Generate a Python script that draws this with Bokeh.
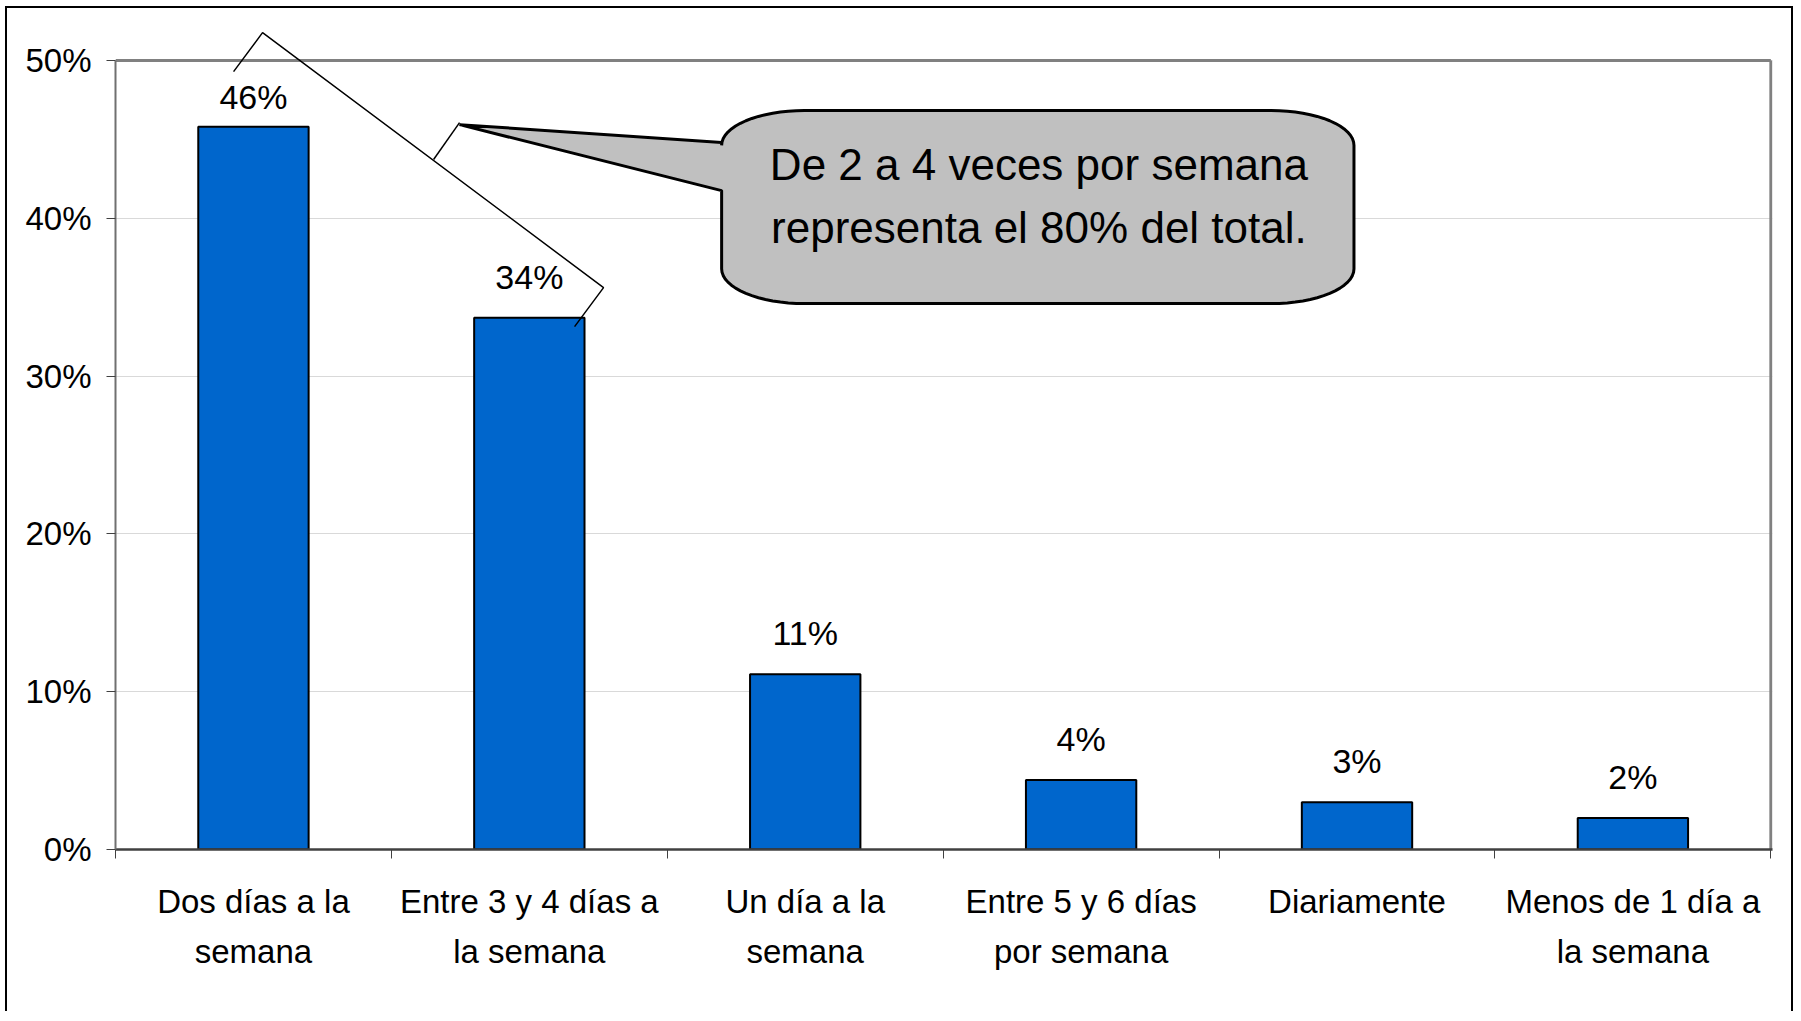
import math
from bokeh.plotting import figure
from bokeh.models import Range1d, FixedTicker, LinearAxis, NumeralTickFormatter, ColumnDataSource
from bokeh.core.properties import value
from bokeh.embed import file_html
from bokeh.resources import INLINE

# ---------------- data ----------------
categories = ["Dos días a la semana", "Entre 3 y 4 días a la semana", "Un día a la semana",
              "Entre 5 y 6 días por semana", "Diariamente", "Menos de 1 día a la semana"]
label_line1 = ["Dos días a la", "Entre 3 y 4 días a", "Un día a la", "Entre 5 y 6 días",
               "Diariamente", "Menos de 1 día a"]
label_line2 = ["semana", "la semana", "semana", "por semana", "", "la semana"]
shares = [0.458, 0.337, 0.111, 0.044, 0.030, 0.020]
share_labels = ["46%", "34%", "11%", "4%", "3%", "2%"]
y_ticks = [0, 0.1, 0.2, 0.3, 0.4, 0.5]
callout_lines = ["De 2 a 4 veces por semana", "representa el 80% del total."]

FONT = "Liberation Sans"
n = len(categories)
centers = [i + 0.5 for i in range(n)]
boundaries = list(range(n + 1))

p = figure(width=1788, height=1005,
           x_range=Range1d(0, 6.006), y_range=Range1d(0, 0.533),
           output_backend="svg", toolbar_location=None,
           min_border_left=108, min_border_right=23, min_border_top=0, min_border_bottom=164,
           styles={"border-top": "2px solid #000", "border-left": "2px solid #000",
                   "border-right": "2px solid #000",
                   "margin-left": "5px", "margin-top": "6px"})
p.outline_line_color = None
p.background_fill_color = "white"
p.border_fill_color = "white"

# grid
p.xgrid.visible = False
p.ygrid.ticker = FixedTicker(ticks=y_ticks)
p.ygrid.grid_line_color = "#D9D9D9"
p.ygrid.grid_line_width = 1

# y axis
p.yaxis.ticker = FixedTicker(ticks=y_ticks, minor_ticks=[])
p.yaxis.formatter = NumeralTickFormatter(format="0%")
p.yaxis.bounds = (0, 0.5)
p.yaxis.axis_line_color = "#707070"
p.yaxis.axis_line_width = 2
p.yaxis.major_tick_out = 9
p.yaxis.major_tick_in = 0
p.yaxis.major_tick_line_color = "#404040"
p.yaxis.minor_tick_line_color = None
p.yaxis.major_label_text_font = FONT
p.yaxis.major_label_text_font_size = "33px"
p.yaxis.major_label_text_color = "black"
p.yaxis.major_label_standoff = 15

# x axis (first label line, boundary ticks)
p.xaxis.ticker = FixedTicker(ticks=centers, minor_ticks=boundaries)
p.xaxis.major_label_overrides = {c: t for c, t in zip(centers, label_line1)}
p.xaxis.axis_line_color = "#404040"
p.xaxis.axis_line_width = 2.5
p.xaxis.major_tick_out = 0
p.xaxis.major_tick_in = 0
p.xaxis.major_tick_line_color = None
p.xaxis.minor_tick_out = 9
p.xaxis.minor_tick_in = 0
p.xaxis.minor_tick_line_color = "#404040"
p.xaxis.minor_tick_line_width = 1
p.xaxis.major_label_text_font = FONT
p.xaxis.major_label_text_font_size = "33px"
p.xaxis.major_label_text_color = "black"
p.xaxis.major_label_standoff = 24

# second label line
ax2 = LinearAxis(ticker=FixedTicker(ticks=centers, minor_ticks=[]),
                 major_label_overrides={c: t for c, t in zip(centers, label_line2)},
                 axis_line_color=None, major_tick_line_color=None, minor_tick_line_color=None,
                 major_label_text_font=FONT, major_label_text_font_size="33px",
                 major_label_text_color="black", major_label_standoff=4)
p.add_layout(ax2, "below")

# plot-area top and right border
p.segment(x0=[0, 6], y0=[0.5, 0], x1=[6, 6], y1=[0.5, 0.5], line_color="#808080", line_width=3)

# bars
src = ColumnDataSource(dict(x=centers, top=shares, label=share_labels,
                            label_y=[min(v + 0.026, 0.477) for v in shares]))
p.vbar(x="x", top="top", bottom=0, width=0.4, source=src,
       fill_color="#0066CC", line_color="black", line_width=2)
p.text(x="x", y="label_y", text="label", source=src, text_align="center",
       text_baseline="middle", text_font=value(FONT), text_font_size="34px", text_color="black")

# bracket over first two bars
br_x = [0.428, 0.533, 1.769, 1.664]
br_y = [0.493, 0.5177, 0.3561, 0.3314]
p.line(br_x, br_y, line_color="black", line_width=1.5)
p.line([1.153, 1.247], [0.4373, 0.4607], line_color="black", line_width=1.5)

# callout
def rounded_callout(L, R, B, T, rx, ry, tip, base_hi, base_lo, steps=16):
    xs, ys = [tip[0], L], [tip[1], base_hi]
    corners = [((L + rx, T - ry), 180, 90), ((R - rx, T - ry), 90, 0),
               ((R - rx, B + ry), 0, -90), ((L + rx, B + ry), -90, -180)]
    for (cx, cy), a0, a1 in corners:
        for k in range(steps + 1):
            a = math.radians(a0 + (a1 - a0) * k / steps)
            xs.append(cx + rx * math.cos(a))
            ys.append(cy + ry * math.sin(a))
    xs.append(L)
    ys.append(base_lo)
    return xs, ys

cx_, cy_ = rounded_callout(2.197, 4.489, 0.346, 0.4683, 0.30, 0.022,
                           (1.247, 0.4594), 0.448, 0.4176)
p.patch(cx_, cy_, fill_color="#C0C0C0", line_color="black", line_width=3)
p.text(x=[3.347, 3.347], y=[0.434, 0.394], text=callout_lines, text_align="center",
       text_baseline="middle", text_font=value(FONT), text_font_size="44px", text_color="black")

open("out.html", "w").write(file_html(p, INLINE))
